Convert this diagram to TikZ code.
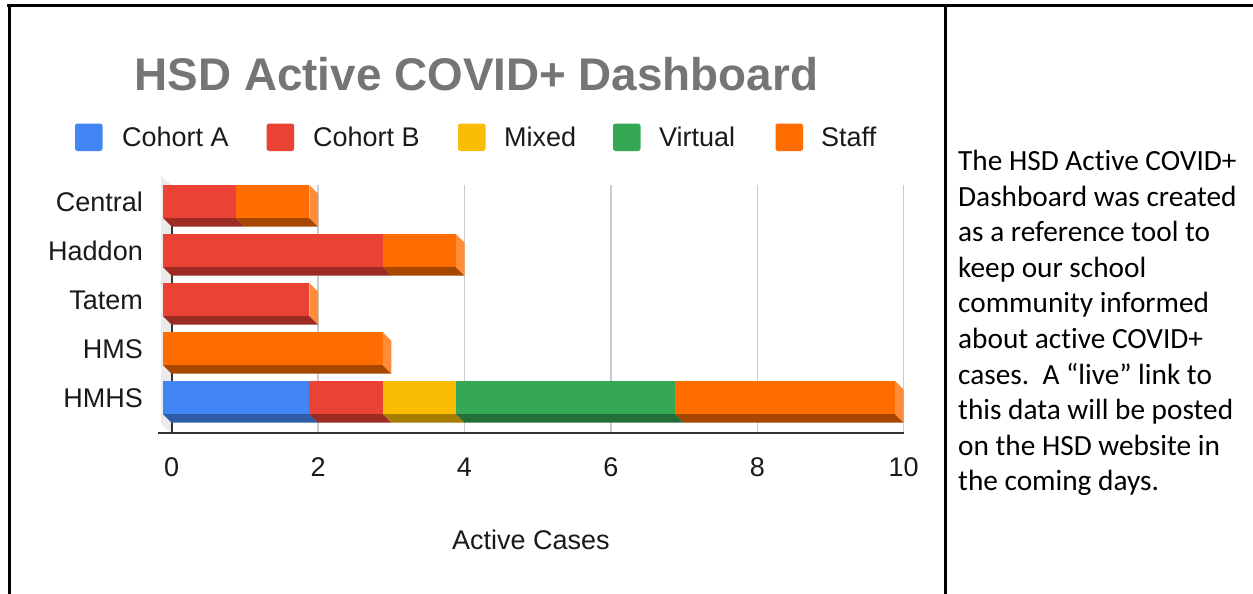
\documentclass[tikz,border=0pt]{standalone}
\usepackage{fontspec}
\newfontfamily\chartfont{Liberation Sans}
\newfontfamily\bodyfont[Ligatures=NoCommon]{Carlito}
\definecolor{cA}{HTML}{4285F4}
\definecolor{cAd}{HTML}{2E5CA6}
\definecolor{cB}{HTML}{EA4335}
\definecolor{cBd}{HTML}{9C2B24}
\definecolor{cM}{HTML}{FBBC04}
\definecolor{cMd}{HTML}{A67C02}
\definecolor{cV}{HTML}{34A853}
\definecolor{cVd}{HTML}{236F37}
\definecolor{cS}{HTML}{FF6D01}
\definecolor{cSd}{HTML}{A84800}
\definecolor{cSs}{HTML}{FF8C38}
\definecolor{titlegray}{HTML}{757575}
\definecolor{txt}{HTML}{1A1A1A}
\definecolor{grid}{HTML}{CCCCCC}
\definecolor{wall}{HTML}{EBEBEB}
\definecolor{axis}{HTML}{333333}
\newcommand{\drawseg}[5]{%
  \pgfmathsetmacro\xa{163+73.2*#2}%
  \pgfmathsetmacro\xb{163+73.2*#3}%
  \pgfmathsetmacro\yb{#1+33}%
  \fill[#5] (\xa,\yb) -- (\xb,\yb) -- ++(8.7,8.7) -- (\xa+8.7,\yb+8.7) -- cycle;
  \fill[#4] (\xa,#1) rectangle (\xb,\yb);
}
\newcommand{\drawside}[3]{%
  \pgfmathsetmacro\xb{163+73.2*#2}%
  \fill[#3] (\xb,#1) -- ++(8.7,8.7) -- ++(0,33) -- ++(-8.7,-8.7) -- cycle;
}
\begin{document}
\begin{tikzpicture}[x=1pt,y=-1pt,
  chart/.style={font=\chartfont\fontsize{27}{32}\selectfont, text=txt, inner sep=0},
  legsq/.style={rounded corners=2.5pt},
  body/.style={font=\bodyfont\fontsize{29.3}{35}\selectfont, text=black, inner sep=0, anchor=base west},
  border/.style={line width=3pt, black}]
\useasboundingbox (0,0) rectangle (1253,594);
\fill[white] (0,0) rectangle (1253,594);

% table borders
\draw[border] (7,5.3) -- (1253,5.3);
\draw[border] (9,4) -- (9,594);
\draw[border] (945.5,4) -- (945.5,594);

% title
\node[font=\chartfont\bfseries\fontsize{45.8}{50}\selectfont, text=titlegray, inner sep=0, anchor=base] (title) at (476.5,91) {HSD Active COVID+ Dashboard};

% legend
\fill[cA, legsq] (75,123.5) rectangle ++(27.5,27.5);
\node[chart, anchor=base west] (legA) at (122,146.7) {Cohort A};
\fill[cB, legsq] (266.7,123.5) rectangle ++(27.5,27.5);
\node[chart, anchor=base west] (legB) at (313,146.7) {Cohort B};
\fill[cM, legsq] (458,123.5) rectangle ++(27.5,27.5);
\node[chart, anchor=base west] (legM) at (504,146.7) {Mixed};
\fill[cV, legsq] (613,123.5) rectangle ++(27.5,27.5);
\node[chart, anchor=base west] (legV) at (659,146.7) {Virtual};
\fill[cS, legsq] (775.5,123.5) rectangle ++(27.5,27.5);
\node[chart, anchor=base west] (legS) at (821,146.7) {Staff};

% wall and grid
\fill[wall] (161,176.3) -- (171.7,185) -- (171.7,433) -- (161,424.3) -- cycle;
\foreach \v in {2,4,...,10} {
  \draw[grid, line width=1.5pt] ({171.7+73.2*\v},185) -- ({171.7+73.2*\v},433);
}
\draw[axis, line width=2pt] (171.7,185) -- (171.7,433);

% bars
% Central
\drawseg{185}{0}{1}{cB}{cBd}
\drawseg{185}{1}{2}{cS}{cSd}
\drawside{185}{2}{cSs}
% Haddon
\drawseg{234}{0}{3}{cB}{cBd}
\drawseg{234}{3}{4}{cS}{cSd}
\drawside{234}{4}{cSs}
% Tatem
\drawseg{283}{0}{2}{cB}{cBd}
\drawside{283}{2}{cSs}
% HMS
\drawseg{332}{0}{3}{cS}{cSd}
\drawside{332}{3}{cSs}
% HMHS
\drawseg{381}{0}{2}{cA}{cAd}
\drawseg{381}{2}{3}{cB}{cBd}
\drawseg{381}{3}{4}{cM}{cMd}
\drawseg{381}{4}{7}{cV}{cVd}
\drawseg{381}{7}{10}{cS}{cSd}
\drawside{381}{10}{cSs}

% axis line
\draw[axis, line width=2pt] (158,433) -- (903.7,433);

% category labels
\node[chart, anchor=base east] (central) at (143,211) {Central};
\node[chart, anchor=base east] (haddon) at (143,260) {Haddon};
\node[chart, anchor=base east] (tatem) at (143,309) {Tatem};
\node[chart, anchor=base east] (hms) at (143,358) {HMS};
\node[chart, anchor=base east] (hmhs) at (143,407) {HMHS};

% tick labels
\foreach \v in {0,2,...,10} {
  \node[chart, anchor=base] (tick\v) at ({171.7+73.2*\v},476) {\v};
}
\node[chart, anchor=base] (xlabel) at (531,549) {Active Cases};

% right text
\foreach \t [count=\i from 0] in {The HSD Active COVID+,Dashboard was created,as a reference tool to,keep our school,community informed,about active COVID+,cases.\ \ A “live” link to,this data will be posted,on the HSD website in,the coming days.} {
  \node[body] (line\i) at (958,{170.5+35.6*\i}) {\t};
}
\end{tikzpicture}
\end{document}
